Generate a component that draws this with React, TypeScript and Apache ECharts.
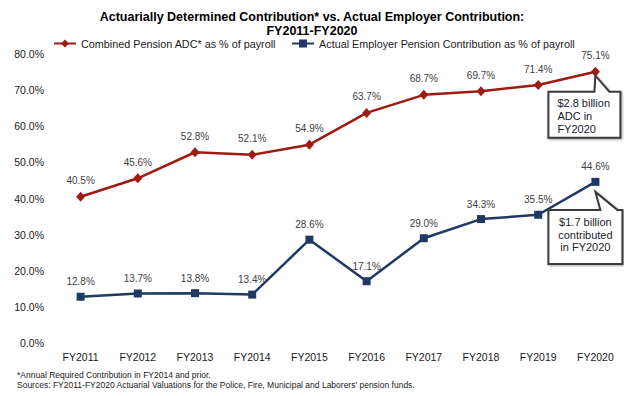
import React, { useEffect, useRef } from "react";
import * as echarts from "echarts";

const categories = ["FY2011", "FY2012", "FY2013", "FY2014", "FY2015", "FY2016", "FY2017", "FY2018", "FY2019", "FY2020"];
const adcValues = [40.5, 45.6, 52.8, 52.1, 54.9, 63.7, 68.7, 69.7, 71.4, 75.1];
const actualValues = [12.8, 13.7, 13.8, 13.4, 28.6, 17.1, 29.0, 34.3, 35.5, 44.6];
const seriesNames = ["Combined Pension ADC* as % of payroll", "Actual Employer Pension Contribution as % of payroll"];
const titleLines = ["Actuarially Determined Contribution* vs. Actual Employer Contribution:", "FY2011-FY2020"];
const footnotes = [
  "*Annual Required Contribution in FY2014 and prior.",
  "Sources: FY2011-FY2020 Actuarial Valuations for the Police, Fire, Municipal and Laborers' pension funds.",
];
const callout1Lines = ["$2.8 billion", "ADC in", "FY2020"];
const callout2Lines = ["$1.7 billion", "contributed", "in FY2020"];

const FONT = "'Liberation Sans', Arial, sans-serif";
const RED = "#9E1B12";
const BLUE = "#1F3864";

export default function App() {
  const ref = useRef<HTMLDivElement>(null);
  useEffect(() => {
    if (!ref.current) return;
    const chart = echarts.init(ref.current, undefined, { renderer: "svg" });
    const option: any = {
      animation: false,
      backgroundColor: "#ffffff",
      textStyle: { fontFamily: FONT },
      legend: {
        left: 53,
        top: 38,
        padding: 0,
        itemWidth: 22,
        itemHeight: 10,
        itemGap: 15,
        textStyle: { fontFamily: FONT, fontSize: 10.8, color: "#1a1a1a" },
        data: seriesNames,
      },
      grid: { left: 52, right: 0, top: 54, bottom: 53 },
      xAxis: {
        type: "category",
        data: categories,
        boundaryGap: true,
        axisLine: { show: false },
        axisTick: { show: false },
        axisLabel: { fontFamily: FONT, fontSize: 10.5, color: "#1a1a1a", margin: 8 },
      },
      yAxis: {
        type: "value",
        min: 0,
        max: 80,
        interval: 10,
        splitLine: { show: false },
        axisLine: { show: false },
        axisTick: { show: false },
        axisLabel: {
          fontFamily: FONT,
          fontSize: 10.5,
          color: "#1a1a1a",
          margin: 8,
          formatter: (v: number) => v.toFixed(1) + "%",
        },
      },
      series: [
        {
          name: seriesNames[0],
          type: "line",
          data: adcValues,
          symbol: "diamond",
          symbolSize: [9, 10],
          lineStyle: { color: RED, width: 2.5 },
          itemStyle: { color: RED },
          label: {
            show: true,
            position: "top",
            distance: 6,
            fontFamily: FONT,
            fontSize: 10,
            color: "#404040",
            formatter: (p: any) => p.value.toFixed(1) + "%",
          },
        },
        {
          name: seriesNames[1],
          type: "line",
          data: actualValues,
          symbol: "rect",
          symbolSize: 8,
          lineStyle: { color: BLUE, width: 2.5 },
          itemStyle: { color: BLUE },
          label: {
            show: true,
            position: "top",
            distance: 6,
            fontFamily: FONT,
            fontSize: 10,
            color: "#404040",
            formatter: (p: any) => p.value.toFixed(1) + "%",
          },
        },
      ],
    };
    chart.setOption(option);

    const last = categories.length - 1;
    const t1 = chart.convertToPixel({ seriesIndex: 0 }, [last, adcValues[last]]) as number[];
    const t2 = chart.convertToPixel({ seriesIndex: 1 }, [last, actualValues[last]]) as number[];

    const box1 = { l: t1[0] - 47, r: t1[0] + 25, t: t1[1] + 20, b: t1[1] + 66 };
    const box2 = { l: t2[0] - 47, r: t2[0] + 27, t: t2[1] + 28, b: t2[1] + 82 };

    const graphic: any[] = [
      {
        type: "text",
        x: 312,
        y: 16.5,
        style: { text: titleLines[0], font: `bold 12.5px ${FONT}`, fill: "#000", align: "center", verticalAlign: "middle" },
      },
      {
        type: "text",
        x: 312,
        y: 30.5,
        style: { text: titleLines[1], font: `bold 12.5px ${FONT}`, fill: "#000", align: "center", verticalAlign: "middle" },
      },
      {
        type: "text",
        x: 17,
        y: 375,
        style: { text: footnotes[0], font: `8.5px ${FONT}`, fill: "#1a1a1a", align: "left", verticalAlign: "middle" },
      },
      {
        type: "text",
        x: 17,
        y: 384.5,
        style: { text: footnotes[1], font: `8.5px ${FONT}`, fill: "#1a1a1a", align: "left", verticalAlign: "middle" },
      },
      {
        type: "polygon",
        z: 100,
        shape: {
          points: [
            [box1.l, box1.t],
            [t1[0] - 1, box1.t],
            [t1[0], t1[1] + 4],
            [t1[0] + 14, box1.t],
            [box1.r, box1.t],
            [box1.r, box1.b],
            [box1.l, box1.b],
          ],
        },
        style: { fill: "#fff", stroke: "#3a3a3a", lineWidth: 2, lineJoin: "miter", shadowBlur: 2, shadowOffsetX: 1, shadowOffsetY: 1, shadowColor: "rgba(0,0,0,0.35)" },
      },
      {
        type: "text",
        z: 101,
        x: box1.l + 9,
        y: box1.t + 5,
        style: { text: callout1Lines.join("\n"), font: `11px ${FONT}`, lineHeight: 13, fill: "#1a1a2a", align: "left", verticalAlign: "top" },
      },
      {
        type: "polygon",
        z: 100,
        shape: {
          points: [
            [box2.l, box2.t],
            [t2[0] + 5, box2.t],
            [t2[0], t2[1] + 10],
            [t2[0] + 22, box2.t],
            [box2.r, box2.t],
            [box2.r, box2.b],
            [box2.l, box2.b],
          ],
        },
        style: { fill: "#fff", stroke: "#3a3a3a", lineWidth: 2, lineJoin: "miter", shadowBlur: 2, shadowOffsetX: 1, shadowOffsetY: 1, shadowColor: "rgba(0,0,0,0.35)" },
      },
      {
        type: "text",
        z: 101,
        x: (box2.l + box2.r) / 2,
        y: box2.t + 6,
        style: { text: callout2Lines.join("\n"), font: `11px ${FONT}`, lineHeight: 12.5, fill: "#1a1a2a", align: "center", verticalAlign: "top" },
      },
    ];
    chart.setOption({ graphic });

    return () => chart.dispose();
  }, []);
  return <div ref={ref} style={{ position: "fixed", left: 0, top: 0, width: 624, height: 396 }} />;
}
